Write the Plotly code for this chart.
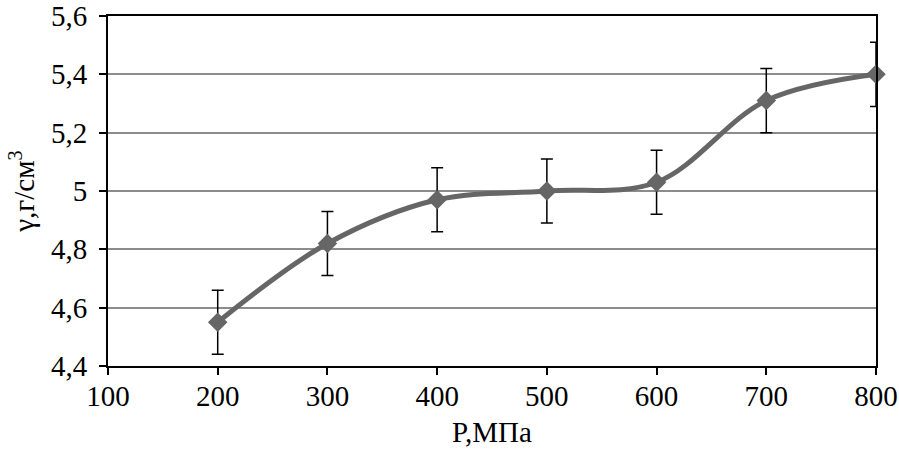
import plotly.graph_objects as go

pressure = [200, 300, 400, 500, 600, 700, 800]
density = [4.55, 4.82, 4.97, 5.00, 5.03, 5.31, 5.40]
error = [0.11, 0.11, 0.11, 0.11, 0.11, 0.11, 0.11]

x_ticks = [100, 200, 300, 400, 500, 600, 700, 800]
y_ticks = [4.4, 4.6, 4.8, 5.0, 5.2, 5.4, 5.6]

serif = "Liberation Serif"
fnt = dict(family=serif, size=29, color="black")

fig = go.Figure()
fig.add_trace(go.Scatter(
    x=pressure, y=density,
    mode="lines+markers",
    line=dict(color="#666666", width=5, shape="spline", smoothing=1.0),
    marker=dict(symbol="diamond", size=15, color="#666666"),
    error_y=dict(type="data", array=error, visible=True, color="black",
                 thickness=1.5, width=6),
    showlegend=False,
    cliponaxis=False,
))

fig.update_layout(
    width=899, height=455,
    autosize=False,
    margin=dict(l=108, r=23, t=16, b=89, autoexpand=False),
    paper_bgcolor="white", plot_bgcolor="white",
    separators=", ",
    font=fnt,
    xaxis=dict(
        range=[100, 800], tickvals=x_ticks,
        showgrid=False, zeroline=False,
        showline=True, linecolor="black", linewidth=2, mirror=True,
        ticks="outside", ticklen=7, tickwidth=2, tickcolor="black",
        tickfont=fnt, ticklabelstandoff=-4,
        title=dict(text="P,МПа", standoff=11, font=fnt),
    ),
    yaxis=dict(
        range=[4.4, 5.6], tickvals=y_ticks,
        showgrid=True, gridcolor="#8c8c8c", gridwidth=1.5,
        zeroline=False,
        showline=True, linecolor="black", linewidth=2, mirror=True,
        ticks="outside", ticklen=7, tickwidth=2, tickcolor="black",
        tickfont=fnt, ticklabelstandoff=6,
        title=dict(text="γ,г/см<sup>3</sup>", standoff=8, font=fnt),
    ),
)

fig.write_html("out.html")
